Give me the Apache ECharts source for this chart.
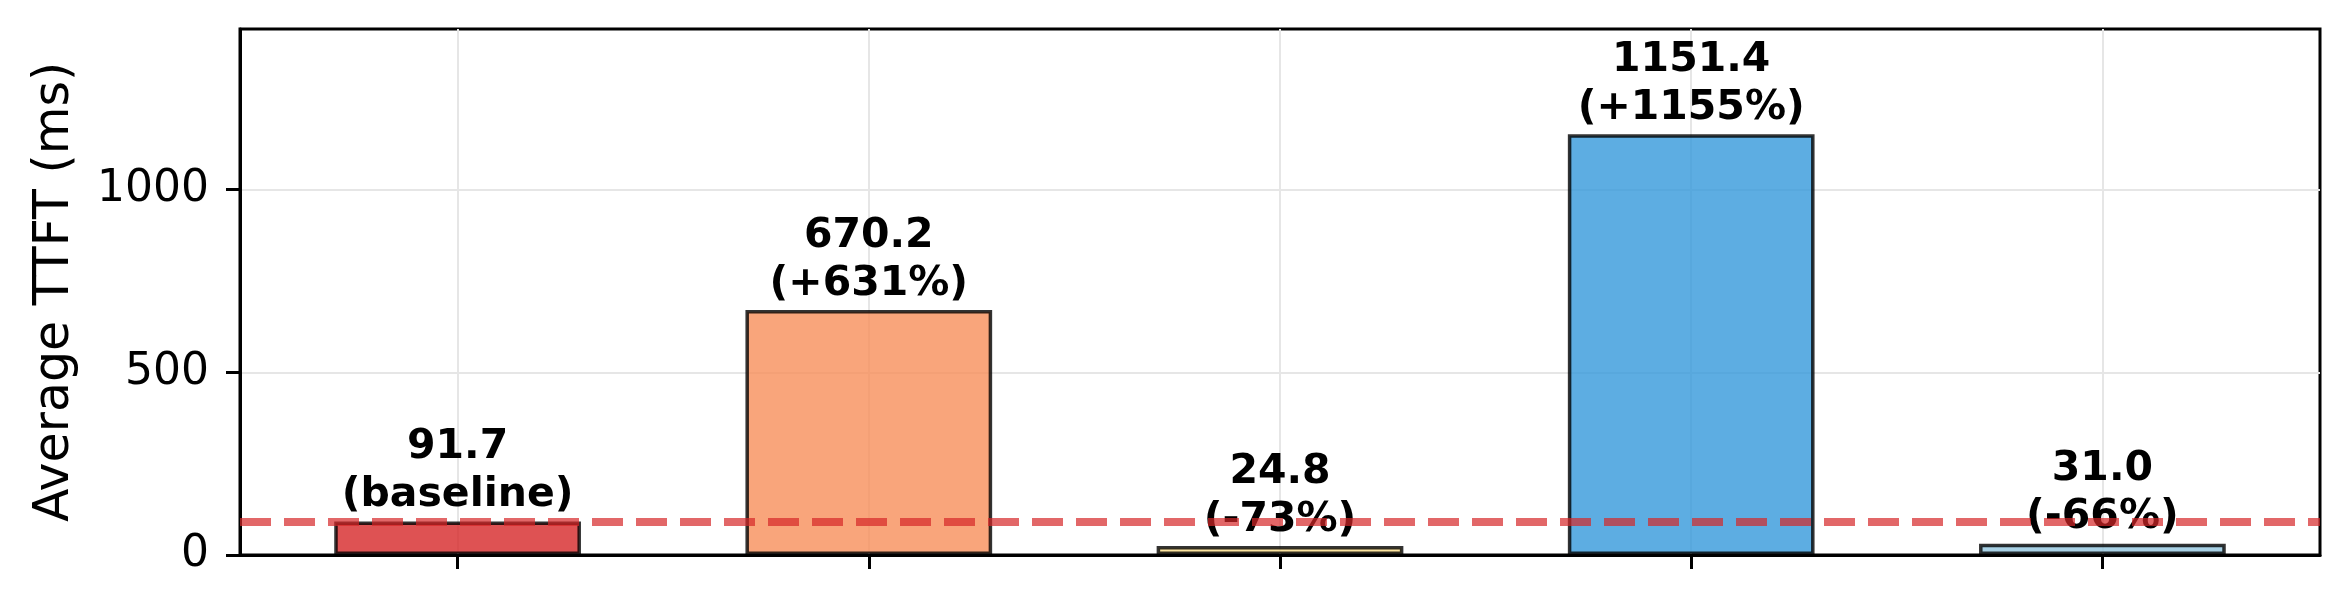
<!DOCTYPE html>
<html>
<head>
<meta charset="utf-8">
<title>Average TTFT</title>
<script src="https://cdn.jsdelivr.net/npm/echarts@6/dist/echarts.min.js"></script>
<style>
  html, body { margin: 0; padding: 0; background: #fff; }
  #chart { width: 2352px; height: 612px; }
</style>
</head>
<body>
<div id="chart"></div>
<script type="text/javascript">
// data
var categories = ['Baseline', 'Config A', 'Config B', 'Config C', 'Config D'];
var ttftValues = [91.7, 670.2, 24.8, 1151.4, 31.0];
var changeLabels = ['baseline', '+631%', '-73%', '+1155%', '-66%'];
var barColors = ['#D62728', '#F88E5A', '#FCDE88', '#3498DB', '#92C5DE'];
var yTicks = [0, 500, 1000];
var yMax = 1439.25;
var baselineValue = ttftValues[0];

var font = 'DejaVu Sans';

var dom = document.getElementById('chart');
var myChart = echarts.init(dom, null, { renderer: 'canvas' });

var barData = ttftValues.map(function (v, i) {
    return {
        value: v,
        itemStyle: { color: barColors[i] }
    };
});

var frameLine = { show: true, lineStyle: { color: '#000', width: 3 } };

var option = {
    animation: false,
    backgroundColor: '#fff',
    grid: [
        // frame grid: y axis, horizontal grid lines, border
        { left: 240, right: 32, top: 29, bottom: 57, show: true, borderColor: '#000', borderWidth: 3, backgroundColor: 'transparent' },
        // bar grid: xlim -0.53 .. 4.53
        { left: 252, right: 44, top: 29, bottom: 57 }
    ],
    xAxis: [
        {
            gridIndex: 0, type: 'value', min: 0, max: 1,
            axisLine: frameLine, axisTick: { show: false },
            axisLabel: { show: false }, splitLine: { show: false }
        },
        {
            gridIndex: 1, type: 'category', data: categories,
            axisLine: { show: false },
            axisTick: { show: true, alignWithLabel: true, inside: false, length: 14, lineStyle: { color: '#000', width: 3 } },
            axisLabel: { show: false },
            splitLine: { show: true, alignWithLabel: true, lineStyle: { color: '#e6e6e6', width: 2 } }
        }
    ],
    yAxis: [
        {
            gridIndex: 0, type: 'value', min: 0, max: yMax,
            name: 'Average TTFT (ms)',
            nameLocation: 'middle',
            nameGap: 160,
            nameTextStyle: { fontFamily: font, fontSize: 49, color: '#000' },
            axisLine: frameLine,
            axisTick: { show: true, customValues: yTicks, length: 14, lineStyle: { color: '#000', width: 3 } },
            axisLabel: {
                customValues: yTicks, fontFamily: font, fontSize: 44, color: '#000', margin: 31,
                formatter: function (v) { return String(v); }
            },
            splitLine: { show: true, lineStyle: { color: '#e6e6e6', width: 2 } }
        },
        {
            gridIndex: 1, type: 'value', min: 0, max: yMax,
            axisLine: { show: false }, axisTick: { show: false },
            axisLabel: { show: false }, splitLine: { show: false }
        }
    ],
    series: [
        {
            name: 'TTFT',
            type: 'bar',
            xAxisIndex: 1, yAxisIndex: 1,
            barWidth: '60%',
            z: 2,
            data: barData,
            itemStyle: { borderColor: '#000', borderWidth: 3.5, opacity: 0.8 }
        },
        {
            // baseline reference line across the whole frame
            name: 'baseline',
            type: 'line',
            xAxisIndex: 0, yAxisIndex: 0,
            data: [],
            z: 3,
            markLine: {
                silent: true,
                symbol: 'none',
                label: { show: false },
                lineStyle: { color: 'rgba(214,39,40,0.7)', width: 8, type: [31, 13] },
                data: [{ yAxis: baselineValue }]
            }
        },
        {
            // value labels, drawn above the dashed line
            name: 'labels',
            type: 'bar',
            xAxisIndex: 1, yAxisIndex: 1,
            barWidth: '60%',
            barGap: '-100%',
            z: 4,
            data: ttftValues,
            itemStyle: { color: 'transparent' },
            label: {
                show: true,
                position: 'top',
                distance: 2,
                fontFamily: font,
                fontSize: 41,
                fontWeight: 'bold',
                lineHeight: 48,
                color: '#000',
                align: 'center',
                formatter: function (p) {
                    return p.value.toFixed(1) + '\n(' + changeLabels[p.dataIndex] + ')';
                }
            }
        }
    ]
};

if (option && typeof option === 'object') {
    myChart.setOption(option, true);
}
</script>
</body>
</html>
